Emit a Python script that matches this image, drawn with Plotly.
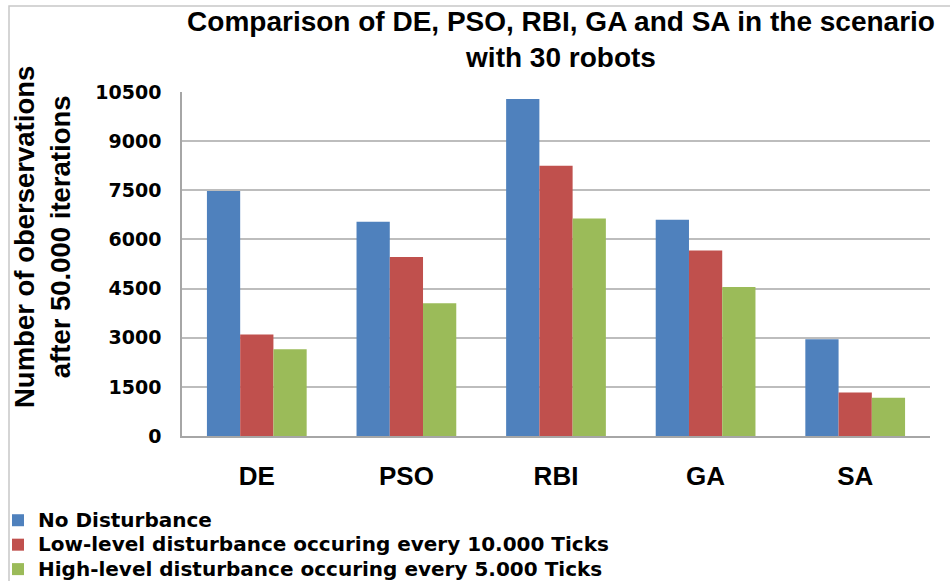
import plotly.graph_objects as go

# Algorithms compared
algorithms = ["DE", "PSO", "RBI", "GA", "SA"]

# Number of observations after 50.000 iterations (30 robots)
no_disturbance = [7480, 6540, 10290, 6600, 2950]
low_level = [3100, 5460, 8250, 5660, 1330]
high_level = [2650, 4050, 6640, 4550, 1170]

series_names = [
    "No Disturbance",
    "Low-level disturbance occuring every 10.000 Ticks",
    "High-level disturbance occuring every 5.000 Ticks",
]
series_colors = ["#4F81BD", "#C0504D", "#9BBB59"]

y_ticks = [0, 1500, 3000, 4500, 6000, 7500, 9000, 10500]

W, H = 950, 581
L, R, T, B = 182, 20, 92, 145
PW, PH = W - L - R, H - T - B


def px_x(px):
    return (px - L) / PW


def px_y(py):
    return (H - B - py) / PH


fig = go.Figure()
for name, vals, col in zip(series_names, [no_disturbance, low_level, high_level], series_colors):
    fig.add_trace(go.Bar(
        x=algorithms, y=vals,
        # larger legend text on a tighter row pitch
        name=f"<span style='font-size:20px'>{name}</span>",
        marker=dict(color=col, line=dict(width=0)),
        hovertemplate=f"{name}<br>%{{x}}: %{{y}}<extra></extra>",
    ))

fig.update_layout(
    width=W, height=H,
    margin=dict(l=L, r=R, t=T, b=B, autoexpand=False),
    paper_bgcolor="white",
    plot_bgcolor="white",
    barmode="group",
    bargap=1 / 3,
    bargroupgap=0,
    title=dict(
        text="Comparison of DE, PSO, RBI, GA and SA in the scenario<br>with 30 robots",
        font=dict(family="Liberation Sans, Arial", size=28, color="black", weight="bold"),
        x=px_x(561), xref="paper", xanchor="center",
        y=1 - 31 / H, yref="container", yanchor="top",
    ),
    xaxis=dict(
        showline=True, linecolor="#a6a6a6", linewidth=1.5,
        showgrid=False, ticks="",
        tickfont=dict(family="Liberation Sans, Arial", size=26, color="black", weight="bold"),
        ticklabelstandoff=16,
    ),
    yaxis=dict(
        range=[0, 10500], tickvals=y_ticks, ticktext=[str(v) for v in y_ticks],
        showline=True, linecolor="#a6a6a6", linewidth=1.5,
        showgrid=True, gridcolor="#bdbdbd", gridwidth=1.5,
        zeroline=False, ticks="",
        tickfont=dict(family="DejaVu Sans", size=19, color="black", weight="bold"),
        ticklabelstandoff=15,
    ),
    legend=dict(
        orientation="v",
        x=px_x(-2), xanchor="left",
        y=px_y(503), yanchor="top",
        font=dict(family="DejaVu Sans", size=16.5, color="black", weight="bold"),
        bgcolor="rgba(0,0,0,0)",
        itemclick=False,
    ),
    showlegend=True,
)

# rotated two-line axis title
fig.add_annotation(
    text="Number of oberservations<br>after 50.000 iterations",
    xref="paper", yref="paper",
    x=px_x(42), y=px_y(237),
    xanchor="center", yanchor="middle",
    textangle=-90, showarrow=False,
    font=dict(family="Liberation Sans, Arial", size=27.5, color="black", weight="bold"),
)

# chart frame (left and top edges)
fig.add_shape(
    type="rect", xref="paper", yref="paper",
    x0=px_x(9), y0=px_y(620), x1=px_x(980), y1=px_y(6),
    line=dict(color="#c8c8c8", width=1.5), fillcolor="rgba(0,0,0,0)",
    layer="below",
)

fig.write_html("out.html")
